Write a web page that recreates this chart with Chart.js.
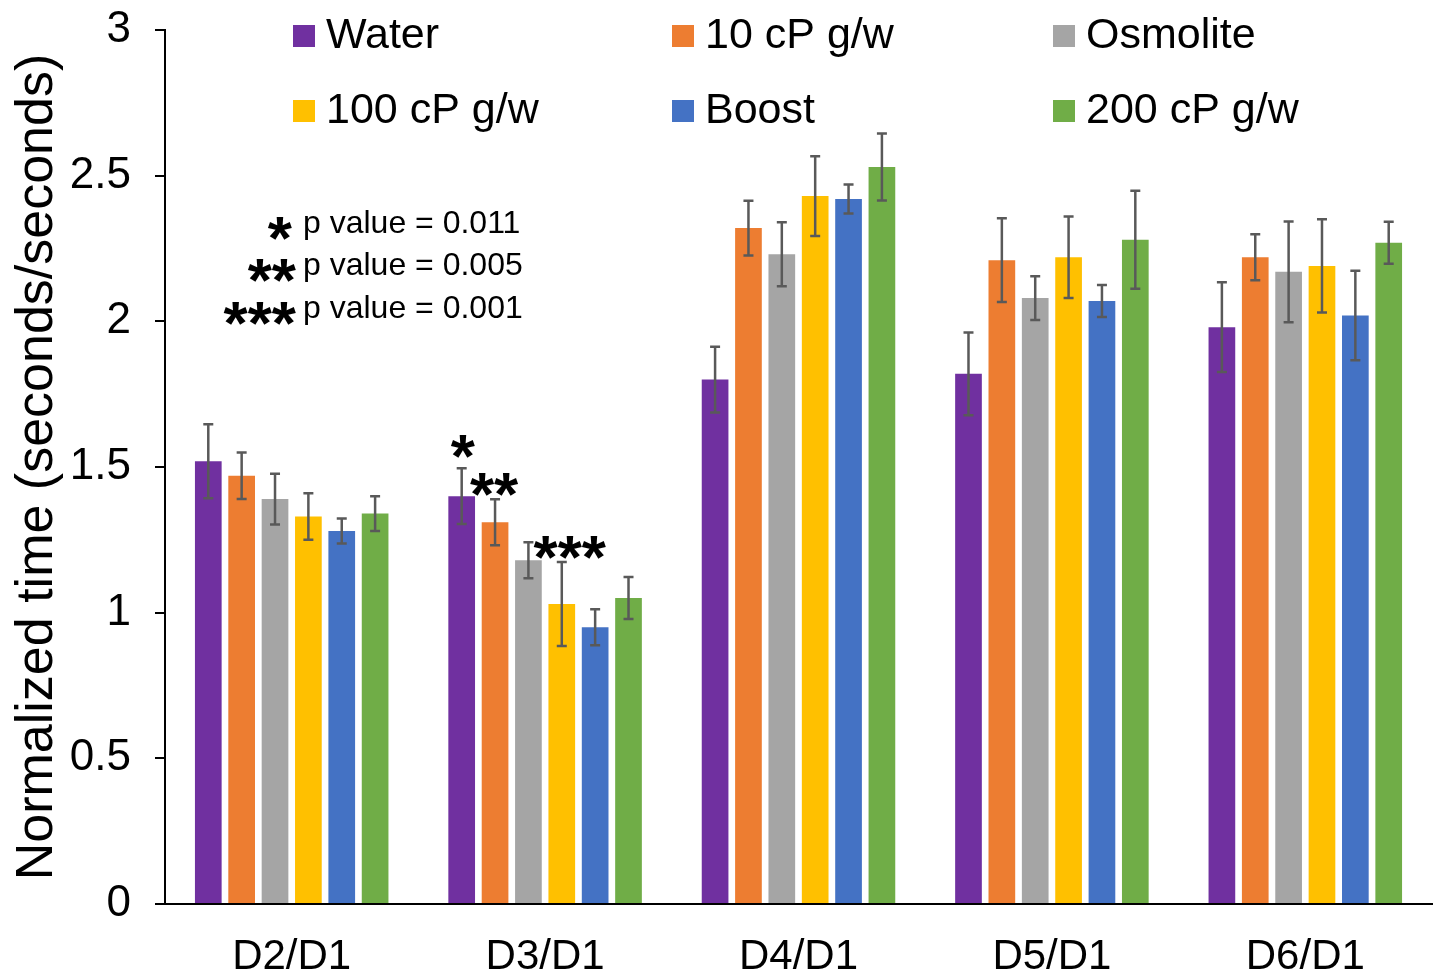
<!DOCTYPE html>
<html>
<head>
<meta charset="utf-8">
<script src="https://cdn.jsdelivr.net/npm/chart.js@4"></script>
<style>
  html, body { margin: 0; padding: 0; background: #fff; }
  #wrap { width: 1435px; height: 974px; }
</style>
</head>
<body>
<div id="wrap"><canvas id="myChart" width="1435" height="974"></canvas></div>
<script>
const categories = ["D2/D1", "D3/D1", "D4/D1", "D5/D1", "D6/D1"];
const seriesNames = ["Water", "10 cP g/w", "Osmolite", "100 cP g/w", "Boost", "200 cP g/w"];
const seriesColors = ["#7030A0", "#ED7D31", "#A5A5A5", "#FFC000", "#4472C4", "#70AD47"];

const water    = [1.52, 1.40, 1.80, 1.82, 1.98];
const cp10     = [1.47, 1.31, 2.32, 2.21, 2.22];
const osmolite = [1.39, 1.18, 2.23, 2.08, 2.17];
const cp100    = [1.33, 1.03, 2.43, 2.22, 2.19];
const boost    = [1.28, 0.95, 2.42, 2.07, 2.02];
const cp200    = [1.34, 1.05, 2.53, 2.28, 2.27];

const waterErr    = [0.127, 0.096, 0.113, 0.142, 0.154];
const cp10Err     = [0.080, 0.079, 0.094, 0.144, 0.079];
const osmoliteErr = [0.087, 0.062, 0.110, 0.075, 0.173];
const cp100Err    = [0.080, 0.144, 0.137, 0.140, 0.160];
const boostErr    = [0.043, 0.062, 0.050, 0.055, 0.154];
const cp200Err    = [0.060, 0.072, 0.115, 0.168, 0.072];

const yTicks = [0, 0.5, 1, 1.5, 2, 2.5, 3];

// significance marks: [category index, series index, text]
const sigMarks = [[1, 0, "*"], [1, 1, "**"], [1, 3, "***"]];
const pNotes = [["*", "p value = 0.011"], ["**", "p value = 0.005"], ["***", "p value = 0.001"]];

const values = [water, cp10, osmolite, cp100, boost, cp200];
const errors = [waterErr, cp10Err, osmoliteErr, cp100Err, boostErr, cp200Err];

const datasets = seriesNames.map((name, i) => ({
  label: name,
  data: values[i],
  errors: errors[i],
  backgroundColor: seriesColors[i],
  categoryPercentage: 0.79,
  barPercentage: 0.8,
}));

const FONT = "'Liberation Sans', Arial, sans-serif";

// error bars
const errorBars = {
  id: "errorBars",
  afterDatasetsDraw(chart) {
    const ctx = chart.ctx;
    const y = chart.scales.y;
    ctx.save();
    ctx.strokeStyle = "#595959";
    ctx.lineWidth = 2.5;
    chart.data.datasets.forEach((ds, i) => {
      const meta = chart.getDatasetMeta(i);
      meta.data.forEach((bar, j) => {
        const v = ds.data[j], e = ds.errors[j];
        const top = y.getPixelForValue(v + e);
        const bot = y.getPixelForValue(v - e);
        ctx.beginPath();
        ctx.moveTo(bar.x, top); ctx.lineTo(bar.x, bot);
        ctx.moveTo(bar.x - 5, top); ctx.lineTo(bar.x + 5, top);
        ctx.moveTo(bar.x - 5, bot); ctx.lineTo(bar.x + 5, bot);
        ctx.stroke();
      });
    });
    ctx.restore();
  },
};

// legend + annotations
const extras = {
  id: "extras",
  afterDraw(chart) {
    const ctx = chart.ctx;
    const y = chart.scales.y;
    ctx.save();
    // legend: 3 columns, 2 rows
    const colX = [293, 672, 1053];
    const rowY = [36, 111];
    ctx.font = "43px " + FONT;
    ctx.textBaseline = "middle";
    ctx.textAlign = "left";
    seriesNames.forEach((name, i) => {
      const cx = colX[i % 3], cy = rowY[Math.floor(i / 3)];
      ctx.fillStyle = seriesColors[i];
      ctx.fillRect(cx, cy - 11, 22, 22);
      ctx.fillStyle = "#000";
      ctx.fillText(name, cx + 33, cy);
    });
    // p value notes
    const noteY = [224, 266, 309];
    pNotes.forEach((n, i) => {
      ctx.font = "32px " + FONT;
      ctx.textAlign = "left";
      ctx.fillStyle = "#000";
      ctx.fillText(n[1], 303, noteY[i]);
      ctx.font = "bold 62px " + FONT;
      ctx.textAlign = "right";
      ctx.fillText(n[0], i === 0 ? 292 : 296, noteY[i] + 18);
    });
    // significance marks above bars
    ctx.font = "bold 62px " + FONT;
    ctx.textAlign = "center";
    sigMarks.forEach(([c, s, t]) => {
      const bar = chart.getDatasetMeta(s).data[c];
      const top = y.getPixelForValue(values[s][c] + errors[s][c]);
      const dx = t === "***" ? 8 : (t === "**" ? -1 : 1);
      const dy = t === "*" ? -8 : -1;
      ctx.fillText(t, bar.x + dx, top + dy);
    });
    ctx.restore();
  },
};

new Chart("myChart", {
  type: "bar",
  data: { labels: categories, datasets },
  options: {
    responsive: false,
    animation: false,
    layout: { padding: { top: 30, right: 3, left: 0, bottom: 0 } },
    plugins: { legend: { display: false }, tooltip: { enabled: false } },
    scales: {
      x: {
        grid: { display: false },
        border: { display: true, color: "#000", width: 2 },
        ticks: { color: "#000", font: { family: FONT, size: 42 }, padding: 20 },
        afterFit(scale) { scale.height = 70; scale.paddingLeft = 0; scale.paddingRight = 0; },
      },
      y: {
        min: 0,
        max: 3,
        afterBuildTicks(scale) { scale.ticks = yTicks.map(v => ({ value: v })); },
        grid: { display: true, drawOnChartArea: false, drawTicks: true, tickLength: 10, color: "#000", lineWidth: 2 },
        border: { display: true, color: "#000", width: 2 },
        ticks: { color: "#000", font: { family: FONT, size: 44 }, padding: 24, callback: v => String(v) },
        title: {
          display: true,
          text: "Normalized time (seconds/seconds)",
          color: "#000",
          font: { family: FONT, size: 52 },
          padding: { top: 6, bottom: 0 },
        },
        afterFit(scale) { scale.width = 165; scale.paddingTop = 0; scale.paddingBottom = 0; },
      },
    },
  },
  plugins: [errorBars, extras],
});
</script>
</body>
</html>
